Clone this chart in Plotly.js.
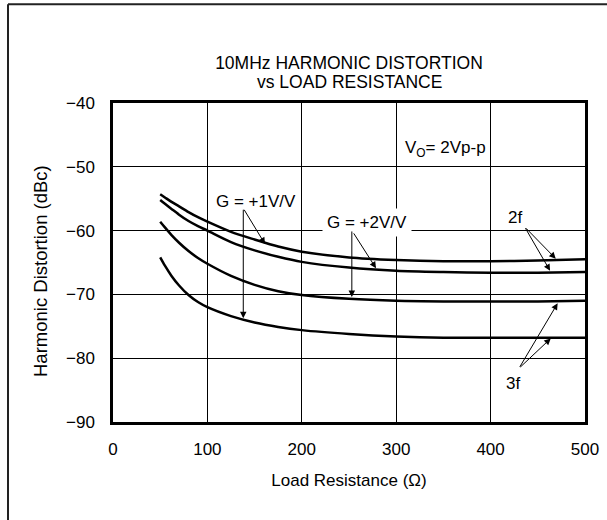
<!DOCTYPE html>
<html>
<head>
<meta charset="utf-8">
<script src="https://cdn.plot.ly/plotly-3.0.1.min.js"></script>
<style>
  html, body { margin: 0; padding: 0; background: #fff; }
  #chart { width: 607px; height: 520px; }
</style>
</head>
<body>
<div id="chart"></div>
<script>
// Load resistance (ohms)
const loadResistance = [50, 55, 62, 70, 80, 90, 100, 125, 150, 175, 200, 250, 300, 350, 400, 450, 500];
// Harmonic distortion (dBc)
const g1_2f = [-54.3, -54.8, -55.5, -56.2, -57.1, -57.9, -58.6, -60.2, -61.4, -62.5, -63.3, -64.2, -64.6, -64.8, -64.8, -64.7, -64.5];
const g2_2f = [-55.2, -55.8, -56.6, -57.5, -58.5, -59.3, -60.0, -61.8, -63.1, -64.1, -64.9, -65.8, -66.3, -66.5, -66.6, -66.6, -66.5];
const g2_3f = [-58.6, -59.5, -60.7, -61.9, -63.2, -64.3, -65.2, -67.1, -68.5, -69.5, -70.1, -70.7, -71.0, -71.1, -71.1, -71.1, -71.0];
const g1_3f = [-64.2, -65.5, -67.1, -68.6, -70.1, -71.2, -72.0, -73.4, -74.4, -75.1, -75.6, -76.2, -76.6, -76.8, -76.8, -76.8, -76.8];

const xTicks = [0, 100, 200, 300, 400, 500];
const yTicks = [-90, -80, -70, -60, -50, -40];

const FONT = 'Liberation Sans, Arial, Helvetica, sans-serif';
const curveLine = { color: '#000', width: 2.5, shape: 'spline', smoothing: 0.8 };

const traces = [
  { x: loadResistance, y: g1_2f, name: 'G=+1V/V 2f' },
  { x: loadResistance, y: g2_2f, name: 'G=+2V/V 2f' },
  { x: loadResistance, y: g2_3f, name: 'G=+2V/V 3f' },
  { x: loadResistance, y: g1_3f, name: 'G=+1V/V 3f' }
].map(t => Object.assign(t, { type: 'scatter', mode: 'lines', line: curveLine, hoverinfo: 'x+y' }));

function arrow(x, y, ax, ay) {
  return { x: x, y: y, ax: ax, ay: ay, xref: 'x', yref: 'y', axref: 'x', ayref: 'y',
           text: '', showarrow: true, arrowhead: 2, arrowsize: 1.3, arrowwidth: 1,
           arrowcolor: '#000', standoff: 0, startstandoff: 0 };
}
function label(text, x, y, extra) {
  return Object.assign({ text: text, x: x, y: y, xref: 'x', yref: 'y', showarrow: false,
           font: { family: FONT, size: 17, color: '#000' }, xanchor: 'center', yanchor: 'middle' }, extra || {});
}

const annotations = [
  label('G = +2V/V', 268.7, -58.7, { bgcolor: '#fff', borderpad: 4 }),
  label('G = +1V/V', 151.8, -55.4),
  label('V<sub>O</sub>= 2Vp-p', 352, -47.2),
  label('2f', 425.8, -57.9),
  label('3f', 423.7, -83.9),
  // G = +1V/V arrows
  arrow(161, -62.1, 138, -56.5),
  arrow(138, -73.75, 138, -56.5),
  // G = +2V/V arrows
  arrow(278.6, -65.9, 254, -60.2),
  arrow(253, -70.4, 253, -59.9),
  // 2f arrows
  arrow(469, -64.4, 436, -59.4),
  arrow(463, -66.3, 436, -59.4),
  // 3f arrows
  arrow(471, -71.4, 430, -81.6),
  arrow(463.7, -76.9, 430, -81.6),
  // second title line
  { text: 'vs LOAD RESISTANCE', xref: 'paper', yref: 'paper', x: 0.5, y: (422 - 82) / 319,
    xanchor: 'center', yanchor: 'middle', showarrow: false,
    font: { family: FONT, size: 17.5, color: '#000' } },
  // y-axis title
  { text: 'Harmonic Distortion (dBc)', xref: 'paper', yref: 'paper', x: (40 - 113) / 472, y: (422 - 271) / 319,
    xanchor: 'center', yanchor: 'middle', textangle: -90, showarrow: false,
    font: { family: FONT, size: 18.5, color: '#000' } }
];

const layout = {
  width: 607, height: 520,
  margin: { l: 113, r: 22, t: 103, b: 98, pad: 0 },
  paper_bgcolor: '#fff', plot_bgcolor: '#fff',
  showlegend: false,
  font: { family: FONT, size: 17, color: '#000' },
  title: { text: '10MHz HARMONIC DISTORTION', x: 0.5, xref: 'paper', xanchor: 'center',
           y: (520 - 62.5) / 520, yref: 'container', yanchor: 'middle',
           font: { family: FONT, size: 17.5, color: '#000' } },
  xaxis: {
    range: [0, 500], tickvals: xTicks, ticktext: xTicks.map(String),
    showgrid: true, gridcolor: '#000', gridwidth: 1.3, zeroline: false,
    showline: true, linecolor: '#000', linewidth: 2.7, mirror: true,
    ticks: '', ticklabelstandoff: 10,
    tickfont: { family: FONT, size: 17, color: '#000' },
    title: { text: 'Load Resistance (Ω)', standoff: 16, font: { family: FONT, size: 17, color: '#000' } },
    fixedrange: true
  },
  yaxis: {
    range: [-90, -40], tickvals: yTicks,
    showgrid: true, gridcolor: '#000', gridwidth: 1.3, zeroline: false,
    showline: true, linecolor: '#000', linewidth: 2.7, mirror: true,
    ticks: '', ticklabelstandoff: 12,
    tickfont: { family: FONT, size: 17, color: '#000' },
    fixedrange: true
  },
  shapes: [
    // outer frame (left and top edges visible)
    { type: 'line', xref: 'paper', yref: 'paper', x0: (8 - 113) / 472, x1: (8 - 113) / 472,
      y0: (422 - 4.3) / 319, y1: (422 - 530) / 319, line: { color: '#222', width: 2 } },
    { type: 'line', xref: 'paper', yref: 'paper', x0: (8 - 113) / 472, x1: (620 - 113) / 472,
      y0: (422 - 4.3) / 319, y1: (422 - 4.3) / 319, line: { color: '#222', width: 2 } }
  ],
  annotations: annotations
};

Plotly.newPlot('chart', traces, layout, { displayModeBar: false, staticPlot: true });
</script>
</body>
</html>
